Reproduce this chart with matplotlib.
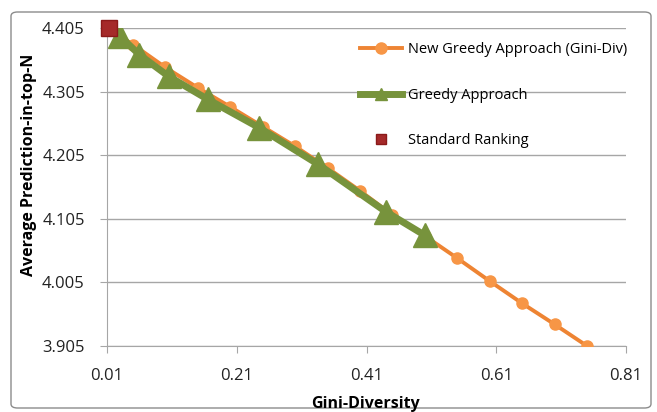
import matplotlib.pyplot as plt
from matplotlib.patches import FancyBboxPatch

# data
new_x = [0.01, 0.05, 0.10, 0.15, 0.20, 0.25, 0.30, 0.35, 0.40, 0.45, 0.50,
         0.55, 0.60, 0.65, 0.70, 0.75]
new_y = [4.405, 4.379, 4.343, 4.311, 4.281, 4.250, 4.219, 4.185, 4.149, 4.111,
         4.078, 4.043, 4.007, 3.972, 3.939, 3.905]
greedy_x = [0.03, 0.06, 0.105, 0.165, 0.245, 0.335, 0.44, 0.50]
greedy_y = [4.392, 4.363, 4.329, 4.293, 4.248, 4.191, 4.116, 4.079]
std_x = [0.013]
std_y = [4.405]
xticks = [0.01, 0.21, 0.41, 0.61, 0.81]
yticks = [3.905, 4.005, 4.105, 4.205, 4.305, 4.405]

plt.rcParams['font.family'] = ['Open Sans', 'DejaVu Sans']

fig = plt.figure(figsize=(6.57, 4.12), dpi=100)
W, H = 657, 412
ax = fig.add_axes([107 / W, 1 - 346 / H, (626 - 107) / W, (346 - 28) / H])

# chart border
fig.patches.append(FancyBboxPatch((11 / W, 4 / H), 640 / W, 396 / H,
                                  boxstyle='round,pad=0,rounding_size=0.01',
                                  transform=fig.transFigure, fill=False,
                                  edgecolor='#8c8c8c', linewidth=1.0))

ax.plot(new_x, new_y, color='#EE8433', lw=2.8, marker='o', ms=8,
        markerfacecolor='#F79646', markeredgecolor='#F79646',
        label='New Greedy Approach (Gini-Div)', zorder=3)
ax.plot(greedy_x, greedy_y, color='#77933C', lw=5, marker='^', ms=17,
        markerfacecolor='#77933C', markeredgecolor='#77933C',
        label='Greedy Approach', zorder=4)
ax.plot(std_x, std_y, ls='none', marker='s', ms=12, color='#A52A2A',
        markeredgecolor='#8B1A1A', label='Standard Ranking', zorder=5,
        clip_on=False)

ax.set_xlim(0.01, 0.81)
ax.set_ylim(3.905, 4.405)
ax.set_xticks(xticks)
ax.set_xticklabels(['%.2f' % v for v in xticks])
ax.set_yticks(yticks)
ax.set_yticklabels(['%.3f' % v for v in yticks])
ax.grid(axis='y', color='#a6a6a6', lw=1)
ax.set_axisbelow(True)
for s in ['top', 'right']:
    ax.spines[s].set_visible(False)
for s in ['left', 'bottom']:
    ax.spines[s].set_color('#a6a6a6')
ax.tick_params(axis='both', colors='#a6a6a6', labelcolor='#222222',
               labelsize=12, length=5, direction='out')
ax.tick_params(axis='x', pad=11)
ax.tick_params(axis='y', pad=11)

fig.text(365 / W, 1 - 404 / H, 'Gini-Diversity', fontsize=11.5,
         fontweight='bold', ha='center', va='center')
fig.text(29 / W, 1 - 165 / H, 'Average Prediction-in-top-N', fontsize=11.5,
         fontweight='bold', ha='center', va='center', rotation=90)

leg = fig.legend(*ax.get_legend_handles_labels(), loc='upper left',
                 bbox_to_anchor=(360 / W, 1 - 42 / H),
                 frameon=False, fontsize=10.5, handlelength=2.9,
                 handletextpad=0.4, labelspacing=2.1, borderaxespad=0,
                 borderpad=0)
sizes = [8, 8, 7]
for h, s in zip(leg.legend_handles, sizes):
    h.set_markersize(s)

fig.savefig('out.png', dpi=100)
